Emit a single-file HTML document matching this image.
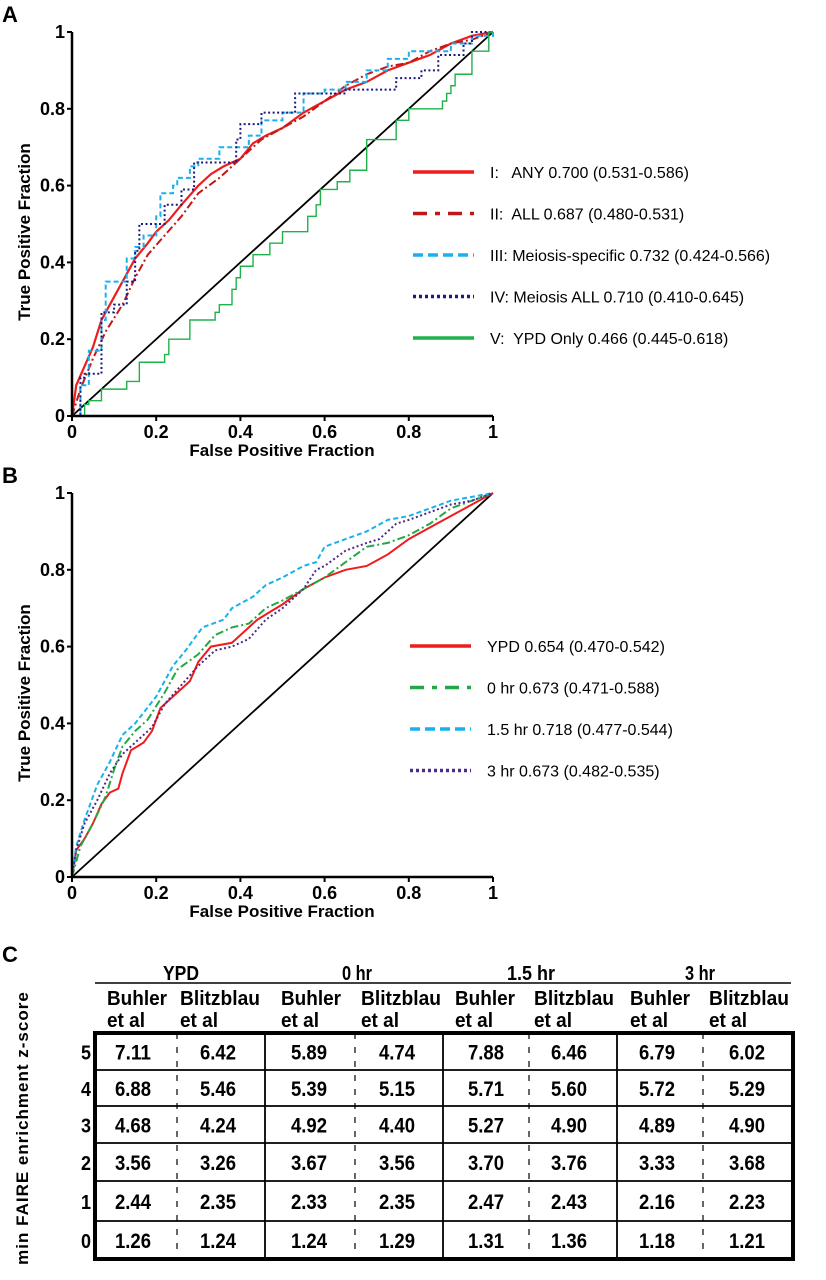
<!DOCTYPE html>
<html><head><meta charset="utf-8"><style>
html,body{margin:0;padding:0;background:#fff}
svg{display:block}
text{font-family:"Liberation Sans",sans-serif}
.tk{font-weight:bold;font-size:18px}
.tt{font-weight:bold;font-size:17px}
.lg{font-size:16px;white-space:pre}
.tb{font-family:"Liberation Sans Narrow","Liberation Sans",sans-serif;font-weight:bold}
</style></head><body>
<svg id="fig" width="826" height="1280" viewBox="0 0 826 1280" xmlns="http://www.w3.org/2000/svg"></svg>
<script>
// Panel A data
const aI_x=[0,0.01,0.03,0.05,0.07,0.1,0.13,0.15,0.18,0.2,0.23,0.26,0.3,0.33,0.36,0.4,0.43,0.46,0.5,0.55,0.6,0.65,0.7,0.75,0.8,0.85,0.9,0.95,1];
const aI_y=[0,0.08,0.13,0.18,0.25,0.31,0.37,0.41,0.45,0.48,0.51,0.55,0.6,0.63,0.65,0.67,0.71,0.73,0.75,0.79,0.82,0.85,0.87,0.9,0.92,0.94,0.97,0.99,1];
const aII_x=[0,0.02,0.05,0.08,0.12,0.15,0.18,0.22,0.26,0.3,0.35,0.4,0.45,0.5,0.55,0.6,0.65,0.7,0.75,0.8,0.85,0.9,0.95,1];
const aII_y=[0,0.07,0.15,0.22,0.29,0.36,0.42,0.47,0.52,0.58,0.62,0.67,0.72,0.75,0.78,0.82,0.86,0.89,0.91,0.92,0.95,0.97,0.98,1];
const aIII_x=[0,0.02,0.04,0.07,0.08,0.1,0.13,0.15,0.17,0.2,0.21,0.24,0.25,0.28,0.3,0.35,0.38,0.42,0.45,0.5,0.55,0.6,0.65,0.7,0.75,0.8,0.85,0.9,0.95,1];
const aIII_y=[0,0.08,0.17,0.25,0.35,0.35,0.41,0.44,0.47,0.52,0.58,0.6,0.62,0.65,0.67,0.7,0.7,0.73,0.77,0.79,0.84,0.85,0.87,0.9,0.93,0.95,0.95,0.97,0.99,1];
const aIV_x=[0,0.02,0.03,0.06,0.07,0.1,0.13,0.15,0.16,0.2,0.22,0.26,0.29,0.36,0.39,0.4,0.45,0.5,0.53,0.6,0.65,0.73,0.77,0.83,0.87,0.93,0.95,1];
const aIV_y=[0,0.1,0.11,0.11,0.27,0.29,0.35,0.43,0.5,0.5,0.55,0.59,0.66,0.66,0.72,0.76,0.79,0.79,0.84,0.84,0.85,0.85,0.88,0.9,0.94,0.97,1,1];
const aV_x=[0,0.03,0.04,0.07,0.13,0.16,0.22,0.23,0.28,0.34,0.35,0.38,0.39,0.4,0.43,0.47,0.5,0.56,0.58,0.59,0.63,0.66,0.7,0.77,0.8,0.88,0.89,0.9,0.91,0.95,0.99,1];
const aV_y=[0,0.03,0.04,0.07,0.09,0.14,0.16,0.2,0.25,0.27,0.29,0.33,0.36,0.39,0.42,0.45,0.48,0.52,0.55,0.59,0.61,0.64,0.72,0.77,0.8,0.82,0.84,0.86,0.89,0.95,1,1];
// Panel B data
const bYPD_x=[0,0.01,0.03,0.05,0.07,0.09,0.11,0.12,0.14,0.17,0.19,0.21,0.24,0.28,0.3,0.33,0.38,0.41,0.44,0.47,0.5,0.55,0.6,0.65,0.7,0.75,0.8,0.85,0.9,0.95,1];
const bYPD_y=[0,0.07,0.1,0.14,0.19,0.22,0.23,0.27,0.33,0.35,0.38,0.44,0.47,0.51,0.56,0.6,0.61,0.64,0.67,0.69,0.71,0.75,0.78,0.8,0.81,0.84,0.88,0.91,0.94,0.97,1];
const b0_x=[0,0.02,0.05,0.08,0.1,0.12,0.15,0.18,0.22,0.25,0.3,0.34,0.38,0.42,0.46,0.5,0.55,0.6,0.65,0.7,0.75,0.8,0.85,0.9,0.95,1];
const b0_y=[0,0.08,0.14,0.21,0.28,0.34,0.38,0.41,0.48,0.54,0.58,0.63,0.65,0.66,0.7,0.72,0.75,0.78,0.82,0.86,0.87,0.89,0.92,0.96,0.98,1];
const b15_x=[0,0.01,0.03,0.06,0.09,0.12,0.15,0.2,0.24,0.27,0.31,0.36,0.38,0.43,0.46,0.5,0.55,0.58,0.6,0.65,0.7,0.75,0.8,0.85,0.9,0.95,1];
const b15_y=[0,0.08,0.15,0.24,0.3,0.37,0.4,0.47,0.55,0.59,0.65,0.67,0.7,0.73,0.76,0.78,0.81,0.82,0.86,0.88,0.9,0.93,0.94,0.96,0.98,0.99,1];
const b3_x=[0,0.01,0.03,0.06,0.09,0.12,0.15,0.19,0.22,0.26,0.3,0.34,0.38,0.42,0.46,0.5,0.55,0.58,0.6,0.65,0.7,0.73,0.77,0.8,0.85,0.9,0.95,1];
const b3_y=[0,0.07,0.14,0.2,0.27,0.32,0.35,0.39,0.45,0.5,0.55,0.59,0.6,0.62,0.67,0.7,0.75,0.8,0.81,0.85,0.87,0.88,0.92,0.93,0.95,0.97,0.98,1];
const ticks=[0,0.2,0.4,0.6,0.8,1];
const tickLabels=["0","0.2","0.4","0.6","0.8","1"];
const legendA=["I:   ANY 0.700 (0.531-0.586)","II:  ALL 0.687 (0.480-0.531)","III: Meiosis-specific 0.732 (0.424-0.566)","IV: Meiosis ALL 0.710 (0.410-0.645)","V:  YPD Only 0.466 (0.445-0.618)"];
const legendB=["YPD 0.654 (0.470-0.542)","0 hr 0.673 (0.471-0.588)","1.5 hr 0.718 (0.477-0.544)","3 hr 0.673 (0.482-0.535)"];
// Table data
const groups=["YPD","0 hr","1.5 hr","3 hr"];
const rowLabels=["5","4","3","2","1","0"];
const tableVals=[
["7.11","6.42","5.89","4.74","7.88","6.46","6.79","6.02"],
["6.88","5.46","5.39","5.15","5.71","5.60","5.72","5.29"],
["4.68","4.24","4.92","4.40","5.27","4.90","4.89","4.90"],
["3.56","3.26","3.67","3.56","3.70","3.76","3.33","3.68"],
["2.44","2.35","2.33","2.35","2.47","2.43","2.16","2.23"],
["1.26","1.24","1.24","1.29","1.31","1.36","1.18","1.21"]];

const NS="http://www.w3.org/2000/svg";
const svg=document.getElementById('fig');
function mk(tag,attrs,parent,txt){const e=document.createElementNS(NS,tag);for(const k in attrs)e.setAttribute(k,attrs[k]);if(txt!==undefined)e.textContent=txt;(parent||svg).appendChild(e);return e;}

function panel(name,label,top,series,legend,legY0,legX0){
  const X0=72,X1=493,Y0=top+384,Y1=top;
  const sx=v=>X0+v*(X1-X0), sy=v=>Y0-v*(Y0-Y1);
  const g=mk('g',{});
  
  
  const pl=mk('text',{x:2,y:top-10,'font-size':22,'font-weight':'bold'},g,label);
  
  
  const diag=mk('line',{x1:sx(0),y1:sy(0),x2:sx(1),y2:sy(1),stroke:'#000','stroke-width':1.8},g);
  
  
  series.forEach(s=>{
    let d='';
    for(let i=0;i<s.x.length;i++){
      if(i===0) d+='M'+sx(s.x[i])+','+sy(s.y[i]);
      else if(s.step) d+=' H'+sx(s.x[i])+' V'+sy(s.y[i]);
      else d+=' L'+sx(s.x[i])+','+sy(s.y[i]);
    }
    const p=mk('path',{d:d,fill:'none',stroke:s.c,'stroke-width':s.w||2,'stroke-dasharray':s.dash||'none'},g);
    
    
  });
  const ax=mk('path',{d:`M${X0},${Y1} V${Y0} H${X1}`,fill:'none',stroke:'#000','stroke-width':2.5},g);
  
  
  ticks.forEach((t,i)=>{
    mk('line',{x1:X0-5,x2:X0,y1:sy(t),y2:sy(t),stroke:'#000','stroke-width':2},g);
    mk('line',{x1:sx(t),x2:sx(t),y1:Y0,y2:Y0+5,stroke:'#000','stroke-width':2},g);
    const yl=mk('text',{x:X0-7,y:sy(t)+6,'text-anchor':'end',class:'tk'},g,tickLabels[i]);
    
    
    const xl=mk('text',{x:sx(t),y:Y0+22,'text-anchor':'middle',class:'tk'},g,tickLabels[i]);
    
    
  });
  const xt=mk('text',{x:282,y:Y0+40,'text-anchor':'middle',class:'tt'},g,'False Positive Fraction');
  
  
  const yt=mk('text',{x:0,y:0,'text-anchor':'middle',class:'tt',transform:`translate(30,${(Y0+Y1)/2+8}) rotate(-90)`},g,'True Positive Fraction');
  
  
  legend.forEach((t,i)=>{
    const y=legY0+i*41.5; const s=series[i];
    const le=mk('g',{},g);
    
    
    mk('line',{x1:legX0,x2:legX0+61,y1:y,y2:y,stroke:s.c,'stroke-width':3.5,'stroke-dasharray':s.ldash||'none'},le);
    mk('text',{x:legX0+77,y:y+6,class:'lg'},le,t);
  });
}

panel('roc-a','A',32,[
  {n:'series-v-ypd-only',x:aV_x,y:aV_y,c:'#1fb24a',w:1.4,step:true},
  {n:'series-iv-meiosis-all',x:aIV_x,y:aIV_y,c:'#1a1a80',dash:'2,2.5',ldash:'3,3',step:true},
  {n:'series-iii-meiosis-specific',x:aIII_x,y:aIII_y,c:'#1ab0ee',dash:'5,3',ldash:'10,5',step:true},
  {n:'series-ii-all',x:aII_x,y:aII_y,c:'#c01818',dash:'8,3,2,3',ldash:'14,8,5,8'},
  {n:'series-i-any',x:aI_x,y:aI_y,c:'#ee1c1c',w:2.2}
].reverse(),legendA,172,413);

panel('roc-b','B',493,[
  {n:'series-ypd',x:bYPD_x,y:bYPD_y,c:'#ee1c1c',w:2},
  {n:'series-0hr',x:b0_x,y:b0_y,c:'#22a845',dash:'8,3,2,3',ldash:'14,8,5,8'},
  {n:'series-1-5hr',x:b15_x,y:b15_y,c:'#1ab0ee',dash:'5,3',ldash:'10,5'},
  {n:'series-3hr',x:b3_x,y:b3_y,c:'#4a2a8a',dash:'2,2.5',ldash:'3,3'}
],legendB,646,410);

// Table C
const tg=mk('g',{});


const cl=mk('text',{x:2,y:962,'font-size':22,'font-weight':'bold'},tg,'C');


const TL=95,TR=793,rowY=[1033,1070,1106,1143,1181,1221,1259];
const groupC=[181,357,531,700], subX=[107,180,281,361,455,534,630,709], valX=[133,218,309,397,486,569,657,747];
const solidX=[265,443,617], dashX=[177,355,529,703];
const gW=[36,30,48,30];
groups.forEach((g,i)=>{
  const t=mk('text',{x:groupC[i]-gW[i]/2,y:980,class:'tb','font-size':20,textLength:gW[i],lengthAdjust:'spacingAndGlyphs'},tg,g);
  
  
});
mk('line',{x1:TL,x2:791,y1:983,y2:983,stroke:'#000','stroke-width':1.5},tg);
subX.forEach((x,i)=>{
  const t1=mk('text',{x:x,y:1005,class:'tb','font-size':20,textLength:i%2?80:60,lengthAdjust:'spacingAndGlyphs'},tg,i%2?'Blitzblau':'Buhler');
  
  
  mk('text',{x:x,y:1027,class:'tb','font-size':20,textLength:38,lengthAdjust:'spacingAndGlyphs'},tg,'et al');
});
for(let r=1;r<rowY.length-1;r++) mk('line',{x1:TL,x2:TR,y1:rowY[r],y2:rowY[r],stroke:'#000','stroke-width':1.8},tg);
solidX.forEach(x=>mk('line',{x1:x,x2:x,y1:rowY[0],y2:rowY[6],stroke:'#000','stroke-width':1.8},tg));
dashX.forEach(x=>mk('line',{x1:x,x2:x,y1:rowY[0],y2:rowY[6],stroke:'#000','stroke-width':1.2,'stroke-dasharray':'6,8'},tg));
mk('rect',{x:TL,y:rowY[0],width:TR-TL,height:rowY[6]-rowY[0],fill:'none',stroke:'#000','stroke-width':4},tg);
tableVals.forEach((row,r)=>{
  const cy=(rowY[r]+rowY[r+1])/2+8;
  const rl=mk('text',{x:91,y:cy,'text-anchor':'end',class:'tb','font-size':20,textLength:10,lengthAdjust:'spacingAndGlyphs'},tg,rowLabels[r]);
  
  
  row.forEach((v,c)=>{
    const t=mk('text',{x:valX[c]-18,y:cy,class:'tb','font-size':21,textLength:36,lengthAdjust:'spacingAndGlyphs'},tg,v);
    
    
  });
});
const tyl=mk('text',{x:0,y:0,'text-anchor':'middle','font-size':17,'font-weight':'bold','letter-spacing':'1',transform:'translate(28,1128) rotate(-90)'},tg,'min FAIRE enrichment z-score');


</script>
</body></html>
